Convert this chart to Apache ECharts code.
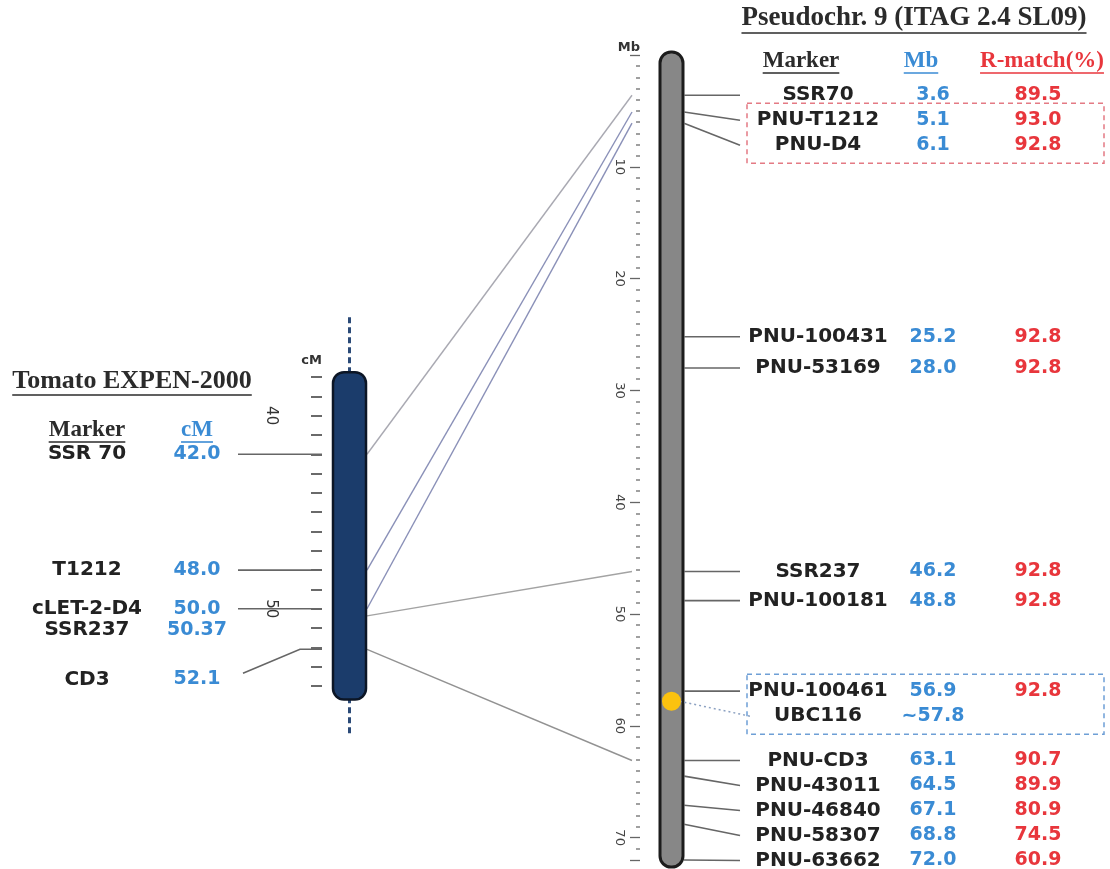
<!DOCTYPE html>
<html>
<head>
<meta charset="utf-8">
<script src="https://cdn.jsdelivr.net/npm/echarts@6/dist/echarts.min.js"></script>
<style>html,body{margin:0;padding:0;background:#fff}#c{width:1110px;height:869px}</style>
</head>
<body>
<div id="c"></div>
<script>
// ---------------- DATA ----------------
// Genetic map: Tomato EXPEN-2000 (cM)
const leftMarkers = ['SSR 70', 'T1212', 'cLET-2-D4', 'SSR237', 'CD3'];
const leftCM      = [42.0, 48.0, 50.0, 50.37, 52.1];
const leftHasTick = [true, true, true, false, true];
const leftAxisRange  = [38, 54];
const leftChromExtent = [37.75, 54.7];
const leftStalkExtent = [34.9, 56.5];

// Physical map: Pseudochr. 9 (ITAG 2.4 SL09) (Mb)
const rightMarkers = ['SSR70', 'PNU-T1212', 'PNU-D4', 'PNU-100431', 'PNU-53169', 'SSR237', 'PNU-100181',
                      'PNU-100461', 'UBC116', 'PNU-CD3', 'PNU-43011', 'PNU-46840', 'PNU-58307', 'PNU-63662'];
const rightMb     = [3.6, 5.1, 6.1, 25.2, 28.0, 46.2, 48.8, 56.9, 57.8, 63.1, 64.5, 67.1, 68.8, 72.0];
const rightRmatch = [89.5, 93.0, 92.8, 92.8, 92.8, 92.8, 92.8, 92.8, null, 90.7, 89.9, 80.9, 74.5, 60.9];
const approxMarkers = ['UBC116'];
const highlightMarker = 'UBC116';
const rightAxisRange = [0, 72];
const rightChromExtent = [-0.27, 72.63];

// Links between maps: [left index, right index]
const links = [[0, 0], [1, 1], [2, 2], [3, 5], [4, 9]];
// Boxes around row groups (right table)
const boxRows = [[1, 2], [7, 8]];

// ---------------- LAYOUT / STYLE ----------------
const LEFT = { gridLeft: 322, gridTop: 377, gridHeight: 309, gridWidth: 300,
  chromX0: 333, chromX1: 366, nameX: 87, valX: 197, lineX0: 238, bendX: 300, axisX: 322, labelGap: 21,
  labelNudge: [0, 0, 0, 0, 30] };
const RIGHT = { gridLeft: 640, gridTop: 55, gridHeight: 805, gridWidth: 470,
  chromX0: 660, chromX1: 683, lineX1: 740, nameX: 818, valX: 933, pctX: 1038, linkX: 632, labelGap: 25,
  boxX0: 747, boxX1: 1104 };
const linkColors = ['#a9a9b2', '#8a90b8', '#8a90b8', '#a3a3a3', '#929292'];
const boxColors = ['#e47a84', '#6e9fd6'];
const NAME_FONT = 'bold 20px "DejaVu Sans"';
const VAL_FONT = 'bold 19px "DejaVu Sans"';
const NAME_COLOR = '#222';
const BLUE = '#3a8bd4';
const RED = '#e8363c';
const SERIF = '"Liberation Serif", "DejaVu Serif", serif';

function spread(ys, gap, nudge) {
  const out = []; let prev = -Infinity;
  ys.forEach((y, i) => { const v = Math.max(y + (nudge ? nudge[i] : 0), prev + gap); out.push(v); prev = v; });
  return out;
}
function fmtVal(v) { return Number.isInteger(Math.round(v * 100) / 10) ? v.toFixed(1) : String(v); }
function txt(text, x, y, font, fill, align) {
  return { type: 'text', x: x, y: y,
    style: { text: text, font: font, fill: fill, align: align || 'center', verticalAlign: 'middle',
             textAlign: align || 'center', textVerticalAlign: 'middle' } };
}

const chart = echarts.init(document.getElementById('c'), null, { renderer: 'canvas', width: 1110, height: 869 });

function renderLeftChrom(params, api) {
  const top = api.coord([0, leftChromExtent[0]])[1];
  const bot = api.coord([0, leftChromExtent[1]])[1];
  const st = api.coord([0, leftStalkExtent[0]])[1];
  const sb = api.coord([0, leftStalkExtent[1]])[1];
  const cx = (LEFT.chromX0 + LEFT.chromX1) / 2;
  return { type: 'group', children: [
    { type: 'line', shape: { x1: cx, y1: st, x2: cx, y2: sb }, style: { stroke: '#2b4a78', lineWidth: 3, lineDash: [6, 4] } },
    { type: 'rect', shape: { x: LEFT.chromX0, y: top, width: LEFT.chromX1 - LEFT.chromX0, height: bot - top, r: 11 },
      style: { fill: '#1b3c6b', stroke: '#0c1626', lineWidth: 2.5 } }
  ]};
}
function renderRightChrom(params, api) {
  const top = api.coord([0, rightChromExtent[0]])[1];
  const bot = api.coord([0, rightChromExtent[1]])[1];
  return { type: 'rect', shape: { x: RIGHT.chromX0, y: top, width: RIGHT.chromX1 - RIGHT.chromX0, height: bot - top, r: 11 },
    style: { fill: '#878787', stroke: '#1c1c1c', lineWidth: 3 } };
}
function renderLeftMarker(params, api) {
  const i = params.dataIndex;
  const ys = leftCM.map(v => api.coord([0, v])[1]);
  const ly = spread(ys, LEFT.labelGap, LEFT.labelNudge);
  const ch = [ txt(leftMarkers[i], LEFT.nameX, ly[i], NAME_FONT, NAME_COLOR),
               txt(fmtVal(leftCM[i]), LEFT.valX, ly[i], VAL_FONT, BLUE) ];
  if (leftHasTick[i]) {
    const pts = Math.abs(ly[i] - ys[i]) < 0.5
      ? [[LEFT.lineX0, ys[i]], [LEFT.axisX, ys[i]]]
      : [[LEFT.lineX0 + 5, ly[i] - 6], [LEFT.bendX, ys[i]], [LEFT.axisX, ys[i]]];
    ch.unshift({ type: 'polyline', shape: { points: pts }, style: { stroke: '#666', lineWidth: 1.6, fill: null } });
  }
  return { type: 'group', children: ch };
}
function renderRightMarker(params, api) {
  const i = params.dataIndex;
  const ys = rightMb.map(v => api.coord([0, v])[1]);
  const ly = spread(ys, RIGHT.labelGap);
  const mbText = (approxMarkers.indexOf(rightMarkers[i]) >= 0 ? '~' : '') + fmtVal(rightMb[i]);
  const ch = [];
  if (rightMarkers[i] === highlightMarker) {
    ch.push({ type: 'line', shape: { x1: (RIGHT.chromX0 + RIGHT.chromX1) / 2 + 8, y1: ys[i], x2: RIGHT.lineX1 + 10, y2: ly[i] },
      style: { stroke: '#8da2c2', lineWidth: 1.5, lineDash: [2, 3] } });
  } else {
    ch.push({ type: 'line', shape: { x1: RIGHT.chromX1 + 1, y1: ys[i], x2: RIGHT.lineX1, y2: ly[i] },
      style: { stroke: '#666', lineWidth: 1.6 } });
  }
  ch.push(txt(rightMarkers[i], RIGHT.nameX, ly[i], NAME_FONT, NAME_COLOR));
  ch.push(txt(mbText, RIGHT.valX, ly[i], VAL_FONT, BLUE));
  if (rightRmatch[i] != null) ch.push(txt(rightRmatch[i].toFixed(1), RIGHT.pctX, ly[i], VAL_FONT, RED));
  return { type: 'group', children: ch };
}
function renderBox(params, api) {
  const k = params.dataIndex;
  const ys = rightMb.map(v => api.coord([0, v])[1]);
  const ly = spread(ys, RIGHT.labelGap);
  const rows = boxRows[k];
  const y0 = ly[rows[0]] - 17, y1 = ly[rows[rows.length - 1]] + 18;
  return { type: 'rect', shape: { x: RIGHT.boxX0, y: y0, width: RIGHT.boxX1 - RIGHT.boxX0, height: y1 - y0 },
    style: { fill: null, stroke: boxColors[k], lineWidth: 1.5, lineDash: [5, 4] } };
}

const hlIdx = rightMarkers.indexOf(highlightMarker);

chart.setOption({
  animation: false,
  backgroundColor: '#fff',
  grid: [
    { left: LEFT.gridLeft, top: LEFT.gridTop, height: LEFT.gridHeight, width: LEFT.gridWidth },
    { left: RIGHT.gridLeft, top: RIGHT.gridTop, height: RIGHT.gridHeight, width: RIGHT.gridWidth }
  ],
  xAxis: [
    { gridIndex: 0, type: 'value', min: 0, max: LEFT.gridWidth, show: false },
    { gridIndex: 1, type: 'value', min: 0, max: RIGHT.gridWidth, show: false }
  ],
  yAxis: [
    { gridIndex: 0, type: 'value', min: leftAxisRange[0], max: leftAxisRange[1], interval: 1, inverse: true,
      axisLine: { show: false }, splitLine: { show: false },
      axisTick: { show: true, length: 11, lineStyle: { color: '#444', width: 1.6 } },
      axisLabel: { rotate: -90, margin: 44, formatter: v => (v % 10 === 0 ? String(v) : ''),
        color: '#333', fontSize: 15, fontFamily: 'DejaVu Sans' },
      name: 'cM', nameLocation: 'start', nameGap: 10,
      nameTextStyle: { color: '#333', fontSize: 13, fontWeight: 'bold', fontFamily: 'DejaVu Sans', align: 'right' } },
    { gridIndex: 1, type: 'value', min: rightAxisRange[0], max: rightAxisRange[1], interval: 10, inverse: true,
      axisLine: { show: false }, splitLine: { show: false },
      axisTick: { show: true, length: 10, lineStyle: { color: '#666', width: 1.3 } },
      minorTick: { show: true, splitNumber: 10, length: 4, lineStyle: { color: '#888', width: 1.6 } },
      axisLabel: { rotate: -90, margin: 14, showMaxLabel: false, formatter: v => (v === 0 ? '' : String(v)),
        color: '#444', fontSize: 13, fontFamily: 'DejaVu Sans' },
      name: 'Mb', nameLocation: 'start', nameGap: 1,
      nameTextStyle: { color: '#333', fontSize: 13, fontWeight: 'bold', fontFamily: 'DejaVu Sans', align: 'right' } }
  ],
  series: [
    { type: 'custom', name: 'leftChrom', xAxisIndex: 0, yAxisIndex: 0, renderItem: renderLeftChrom,
      data: [[0, leftChromExtent[0]]], encode: { x: 0, y: 1 }, z: 3 },
    { type: 'custom', name: 'leftMarkers', xAxisIndex: 0, yAxisIndex: 0, renderItem: renderLeftMarker,
      data: leftCM.map(v => [0, v]), encode: { x: 0, y: 1 }, z: 4 },
    { type: 'custom', name: 'rightChrom', xAxisIndex: 1, yAxisIndex: 1, renderItem: renderRightChrom,
      data: [[0, rightChromExtent[0]]], encode: { x: 0, y: 1 }, z: 3 },
    { type: 'custom', name: 'rightMarkers', xAxisIndex: 1, yAxisIndex: 1, renderItem: renderRightMarker,
      data: rightMb.map(v => [0, v]), encode: { x: 0, y: 1 }, z: 4 },
    { type: 'custom', name: 'boxes', xAxisIndex: 1, yAxisIndex: 1, renderItem: renderBox,
      data: boxRows.map(r => [0, rightMb[r[0]]]), encode: { x: 0, y: 1 }, z: 2 },
    { type: 'scatter', name: highlightMarker, xAxisIndex: 1, yAxisIndex: 1, symbolSize: 19,
      itemStyle: { color: '#fbc20f', opacity: 1 }, z: 6,
      data: [[(RIGHT.chromX0 + RIGHT.chromX1) / 2 - RIGHT.gridLeft, rightMb[hlIdx]]] }
  ]
});

// ---------- second pass: cross-map links and headers ----------
const lpx = v => chart.convertToPixel({ gridIndex: 0 }, [0, v])[1];
const rpx = v => chart.convertToPixel({ gridIndex: 1 }, [0, v])[1];
const ctx = document.createElement('canvas').getContext('2d');
function measure(text, font) { ctx.font = font; return ctx.measureText(text).width; }
function header(text, cx, y, font, fill, ulY) {
  const w = measure(text, font);
  return [
    { type: 'text', x: cx, y: y, style: { text: text, font: font, fill: fill, align: 'center', verticalAlign: 'middle',
      textAlign: 'center', textVerticalAlign: 'middle' } },
    { type: 'line', shape: { x1: cx - w / 2, y1: ulY, x2: cx + w / 2, y2: ulY }, style: { stroke: fill, lineWidth: 1.6 } }
  ];
}
const els = [];
links.forEach(([li, ri], k) => {
  els.push({ type: 'line', z: 1, shape: { x1: LEFT.chromX1 + 1, y1: lpx(leftCM[li]), x2: RIGHT.linkX, y2: rpx(rightMb[ri]) },
    style: { stroke: linkColors[k], lineWidth: 1.4 } });
});
const TITLE_FONT = 'bold 27px ' + SERIF;
const TITLE2_FONT = 'bold 26px ' + SERIF;
const COL_FONT = 'bold 23px ' + SERIF;
els.push(...header('Pseudochr. 9 (ITAG 2.4 SL09)', 914, 18, TITLE_FONT, '#2b2b2b', 33));
els.push(...header('Marker', 801, 61, COL_FONT, '#2b2b2b', 73));
els.push(...header('Mb', 921, 61, COL_FONT, BLUE, 73));
els.push(...header('R-match(%)', 1042, 61, COL_FONT, RED, 73));
els.push(...header('Tomato EXPEN-2000', 132, 381, TITLE2_FONT, '#2b2b2b', 395));
els.push(...header('Marker', 87, 430, COL_FONT, '#2b2b2b', 442));
els.push(...header('cM', 197, 430, COL_FONT, BLUE, 442));
chart.setOption({ graphic: { elements: els } });
</script>
</body>
</html>
